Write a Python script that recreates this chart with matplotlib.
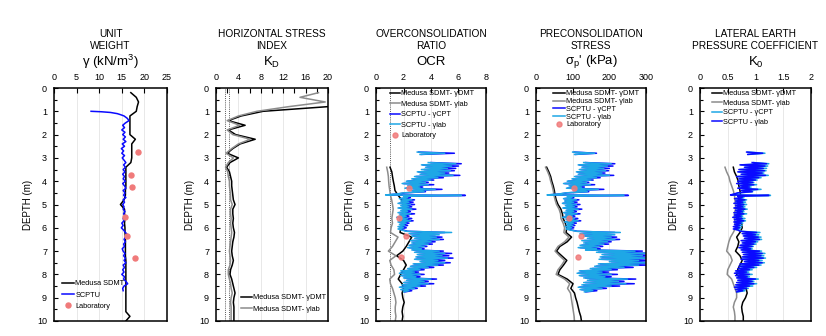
import numpy as np
import matplotlib
matplotlib.use("Agg")
import matplotlib.pyplot as plt
from matplotlib.ticker import MultipleLocator, FuncFormatter

plt.rcParams['font.family'] = ['Liberation Sans', 'DejaVu Sans']
plt.rcParams['mathtext.fontset'] = 'custom'
plt.rcParams['mathtext.rm'] = 'Liberation Sans'
plt.rcParams['mathtext.it'] = 'Liberation Sans'

nan = np.nan

# ---------------- data ----------------
# DMT depths (m)
dmt_depth = [0.2, 0.4, 0.6, 0.8, 1.0, 1.2, 1.4, 1.6, 1.8, 2.0, 2.2, 2.4, 2.6, 2.8, 3.0, 3.2, 3.4,
             3.6, 3.8, 4.0, 4.2, 4.4, 4.6, 4.8, 5.0, 5.2, 5.4, 5.6, 5.8, 6.0, 6.2, 6.4, 6.6,
             6.8, 7.0, 7.2, 7.4, 7.6, 7.8, 8.0, 8.2, 8.4, 8.6, 8.8, 9.0, 9.2, 9.4, 9.6, 9.8, 10.0]
uw_sdmt = [17.0, 18.2, 18.7, 18.4, 18.2, 16.8, 16.8, 16.8, 16.8, 16.8, 18.0, 17.2, 17.2, 17.2, 17.2, 17.0, 15.9,
           15.9, 15.9, 15.9, 15.9, 15.8, 15.8, 15.5, 14.7, 15.6, 15.6, 15.7, 15.6, 15.7, 15.7, 15.8, 15.8,
           15.8, 15.8, 15.8, 15.9, 15.9, 15.9, 15.9, 15.9, 15.9, 15.9, 15.9, 15.9, 15.9, 15.9, 15.9, 16.8, 15.9]
kd_dmt = [28.0, 26.0, 24.0, 20.0, 8.4, 4.5, 2.2, 5.2, 2.2, 3.5, 7.0, 4.3, 3.0, 2.0, 4.0, 2.5, 1.9,
          2.4, 2.6, 2.8, 2.8, 2.9, 3.0, 3.1, 3.4, 3.0, 3.0, 3.1, 3.0, 3.1, 3.3, 3.2, 3.0,
          2.9, 2.8, 2.9, 3.1, 2.9, 2.6, 2.5, 2.8, 3.0, 3.2, 3.4, 3.2, 3.1, 3.2, 3.2, 3.2, 3.2]
kd_lab = [18.3, 15.0, 19.5, 13.0, 7.3, 4.0, 2.0, 4.2, 2.0, 3.0, 6.1, 4.0, 2.8, 1.8, 3.1, 2.2, 1.7,
          2.1, 2.2, 2.4, 2.4, 2.5, 2.6, 2.6, 2.9, 2.6, 2.6, 2.7, 2.6, 2.7, 2.8, 2.7, 2.6,
          2.5, 2.4, 2.5, 2.6, 2.5, 2.2, 2.2, 2.4, 2.6, 2.7, 2.9, 2.7, 2.6, 2.7, 2.7, 2.7, 2.7]
kd_ref_lines = [1.6, 2.3]

# SDMT-derived profiles (clay, from 3.4 m)
sdmt_depth = [3.4, 3.6, 3.8, 4.0, 4.2, 4.4, 4.6, 4.8, 5.0, 5.2, 5.4, 5.6, 5.8, 6.0, 6.2, 6.4, 6.6,
              6.8, 7.0, 7.2, 7.4, 7.6, 7.8, 8.0, 8.2, 8.4, 8.6, 8.8, 9.0, 9.2, 9.4, 9.6, 9.8, 10.0]
ocr_dmt = [1.02, 1.15, 1.2, 1.26, 1.33, 1.38, 1.6, 1.87, 2.0, 2.2, 1.95, 1.9, 2.0, 1.8, 1.75, 2.6, 2.4,
           2.2, 1.95, 1.5, 2.0, 2.2, 2.0, 1.8, 1.62, 1.9, 2.0, 1.9, 1.95, 2.05, 1.95, 1.9, 1.95, 1.9]
ocr_dlab = [0.78, 0.85, 0.9, 0.92, 0.95, 1.0, 1.05, 1.14, 1.2, 1.25, 1.2, 1.15, 1.2, 1.1, 1.05, 1.6, 1.4,
            1.2, 0.9, 1.45, 1.0, 1.1, 1.3, 1.35, 1.0, 1.05, 1.2, 1.3, 1.4, 1.45, 1.4, 1.4, 1.45, 1.4]
sig_dmt = [29, 35, 40, 43, 47, 50, 52, 55, 60, 68, 72, 74, 80, 84, 82, 97, 85,
           65, 56, 70, 84, 75, 65, 60, 85, 101, 95, 105, 108, 112, 115, 118, 122, 124]
sig_dlab = [26, 32, 37, 40, 44, 47, 49, 52, 56, 63, 67, 68, 74, 78, 76, 90, 78,
            60, 52, 64, 78, 70, 60, 55, 78, 92, 86, 94, 96, 98, 100, 102, 104, 105]
k0_dmt = [0.6, 0.62, 0.66, 0.69, 0.7, 0.72, 0.73, 0.75, 0.76, 0.78, 0.75, 0.73, 0.75, 0.76, 0.72, 0.66, 0.7,
          0.68, 0.64, 0.72, 0.76, 0.72, 0.68, 0.66, 0.75, 0.81, 0.83, 0.85, 0.82, 0.77, 0.75, 0.76, 0.78, 0.78]
k0_dlab = [0.45, 0.48, 0.52, 0.54, 0.57, 0.6, 0.62, 0.63, 0.64, 0.64, 0.62, 0.62, 0.63, 0.64, 0.6, 0.55, 0.52,
           0.5, 0.48, 0.55, 0.58, 0.54, 0.5, 0.49, 0.57, 0.6, 0.63, 0.66, 0.66, 0.62, 0.6, 0.62, 0.63, 0.63]

# SCPTU unit weight
cpt_uw_depth = [1.0, 1.02, 1.05, 1.1, 1.15, 1.2, 1.3, 1.4, 1.5, 1.6, 1.7, 1.8, 1.9, 2.0, 2.1, 2.2, 2.3, 2.4,
                2.5, 2.6, 2.7, 2.8, 2.9, 3.0, 3.1, 3.2, 3.3, 3.4, 3.5, 3.6, 3.7, 3.8, 3.9, 4.0, 4.1, 4.2,
                4.3, 4.4, 4.5, 4.6, 4.7, 4.8, 4.9, 5.0, 5.1, 5.2, 5.3, 5.4, 5.5, 5.6, 5.7, 5.8, 5.9, 6.0,
                6.1, 6.2, 6.3, 6.4, 6.5, 6.6, 6.7, 6.8, 6.9, 7.0, 7.1, 7.2, 7.3, 7.4, 7.5, 7.6, 7.7, 7.8,
                7.9, 8.0, 8.1, 8.2, 8.3, 8.4, 8.5, 8.6, 8.7]
cpt_uw = [8.2, 10.5, 12.5, 14.0, 14.8, 15.5, 16.2, 16.6, 15.8, 15.2, 15.6, 15.0, 15.7, 15.2, 15.8, 15.3, 15.9, 15.1,
          15.6, 14.9, 15.4, 15.0, 15.6, 15.1, 15.5, 15.9, 15.4, 15.8, 15.3, 15.7, 15.2, 15.6, 15.3, 15.8, 15.2, 15.6,
          15.9, 15.3, 15.7, 15.4, 15.9, 15.3, 15.6, 15.2, 15.5, 15.3, 15.7, 15.4, 15.8, 15.3, 15.5, 15.0, 15.3, 14.9,
          15.4, 15.8, 16.3, 15.8, 15.5, 15.8, 15.4, 15.6, 15.1, 15.3, 15.7, 15.4, 15.8, 15.5, 15.9, 15.3, 15.6, 15.2,
          15.5, 15.0, 15.6, 15.4, 15.9, 16.3, 15.5, 15.2, 15.3]

# SCPTU-derived profiles
cpt_depth = [2.75, 2.80, 2.85, nan, 3.20, 3.25, 3.30, 3.35, 3.40, 3.45, 3.50, 3.55, 3.60, 3.65, 3.70, 3.75,
             3.80, 3.85, 3.90, 3.95, 4.00, 4.05, 4.10, 4.15, 4.20, 4.25, 4.30, 4.35, 4.40, 4.45, 4.50, 4.55,
             4.59, 4.61, 4.65, 4.70, 4.75, 4.80, 4.85, 4.90, 4.95, 5.00, 5.05, 5.10, 5.15, 5.20, 5.25, 5.30,
             5.35, 5.40, 5.45, 5.50, 5.55, 5.60, 5.65, 5.70, 5.75, 5.80, 5.85, 5.90, 5.95, 6.00, 6.05, 6.10,
             6.15, 6.20, 6.25, 6.30, 6.35, 6.40, 6.45, 6.50, 6.55, 6.60, 6.65, 6.70, 6.75, 6.80, 6.85, 6.90,
             6.95, 7.00, 7.05, 7.10, 7.15, 7.20, 7.25, 7.30, 7.35, 7.40, 7.45, 7.50, 7.55, 7.60, 7.65, 7.70,
             7.75, 7.80, 7.85, 7.90, 7.95, 8.00, 8.05, 8.10, 8.15, 8.20, 8.25, 8.30, 8.35, 8.40, 8.45, 8.50,
             8.55, 8.60, 8.65, 8.70, 8.75]
ocr_cpt_lab = [3.0, 5.0, 3.2, nan, 3.8, 5.8, 3.3, 5.5, 3.6, 5.2, 3.3, 5.4, 3.0, 5.0, 3.2, 5.6,
               2.8, 4.5, 2.6, 4.0, 2.2, 3.6, 1.9, 3.8, 2.3, 3.2, 2.1, 4.3, 2.6, 3.5, 2.0, 1.5,
               0.7, 6.2, 2.0, 2.3, 1.7, 2.6, 1.8, 2.4, 1.6, 2.5, 1.8, 2.4, 1.6, 2.6, 1.8, 2.3,
               1.6, 2.5, 1.7, 2.2, 1.5, 2.3, 1.7, 2.5, 1.6, 2.2, 1.7, 2.1, 1.6, 2.0, 1.6, 1.9,
               2.2, 5.5, 2.4, 4.6, 2.6, 4.4, 2.8, 4.6, 2.5, 4.0, 2.6, 3.8, 2.4, 3.5, 2.3, 3.3,
               2.6, 4.6, 2.8, 5.0, 3.0, 4.8, 2.9, 5.2, 2.8, 4.5, 3.2, 5.0, 2.7, 4.5, 2.5, 3.8,
               2.3, 3.2, 1.8, 2.8, 1.7, 3.2, 1.8, 2.9, 2.0, 4.0, 2.2, 3.5, 2.0, 3.8, 1.9, 3.2,
               1.7, 2.8, 1.8, 2.4, 2.0]
ocr_cpt_cpt = [3.1, 5.7, 3.3, nan, 4.0, 6.2, 3.4, 6.0, 3.7, 5.8, 3.5, 5.7, 3.1, 5.3, 3.3, 6.1,
               2.9, 4.9, 2.7, 4.2, 2.3, 3.8, 2.0, 4.2, 2.4, 3.4, 2.2, 4.8, 2.7, 3.6, 2.1, 1.6,
               0.75, 6.5, 2.1, 2.5, 1.8, 2.8, 1.9, 2.7, 1.7, 2.8, 1.9, 2.6, 1.7, 2.9, 1.9, 2.5,
               1.7, 2.8, 1.8, 2.4, 1.6, 2.6, 1.8, 2.7, 1.7, 2.4, 1.8, 2.3, 1.7, 2.2, 1.7, 2.0,
               2.3, 5.0, 2.5, 4.3, 2.7, 4.8, 2.9, 4.9, 2.6, 4.3, 2.7, 4.1, 2.5, 3.7, 2.4, 3.5,
               2.7, 4.9, 2.9, 5.5, 3.1, 5.3, 3.0, 5.6, 2.9, 5.0, 3.3, 5.4, 2.8, 4.9, 2.6, 4.2,
               2.4, 3.5, 1.9, 3.1, 1.8, 3.5, 1.9, 3.2, 2.1, 4.4, 2.3, 3.8, 2.1, 4.2, 2.0, 3.6,
               1.8, 3.0, 1.9, 2.6, 2.1]
sig_cpt_lab = [100, 160, 105, nan, 130, 205, 115, 195, 125, 185, 118, 190, 110, 180, 115, 200,
               105, 165, 98, 150, 85, 138, 75, 148, 90, 125, 83, 170, 103, 140, 82, 62,
               30, 240, 85, 98, 75, 110, 78, 103, 72, 110, 80, 105, 73, 115, 82, 103,
               75, 112, 80, 100, 72, 105, 82, 115, 78, 103, 83, 100, 80, 97, 82, 95,
               110, 230, 120, 215, 130, 205, 140, 215, 125, 195, 130, 185, 120, 172, 115, 165,
               135, 270, 165, 300, 180, 290, 175, 315, 172, 280, 200, 310, 170, 280, 160, 240,
               148, 205, 118, 180, 112, 205, 118, 188, 130, 250, 140, 225, 130, 245, 125, 205,
               115, 180, 120, 155, 132]
sig_cpt_cpt = [104, 165, 108, nan, 135, 215, 118, 210, 128, 200, 122, 198, 113, 188, 118, 212,
               108, 175, 101, 156, 88, 144, 78, 160, 93, 132, 86, 185, 106, 144, 85, 65,
               32, 252, 88, 103, 77, 117, 80, 112, 74, 120, 83, 112, 76, 125, 84, 110,
               78, 120, 83, 106, 75, 114, 85, 122, 81, 110, 86, 106, 83, 103, 85, 98,
               113, 215, 124, 205, 134, 220, 145, 228, 130, 205, 135, 198, 125, 182, 120, 175,
               140, 290, 170, 330, 185, 320, 180, 340, 178, 310, 205, 335, 175, 305, 165, 265,
               153, 222, 122, 198, 116, 222, 122, 205, 135, 272, 146, 240, 135, 268, 130, 228,
               119, 192, 124, 166, 136]
k0_cpt_lab = [0.84, 1.13, 0.86, nan, 0.94, 1.20, 0.72, 1.17, 0.80, 1.14, 0.70, 1.16, 0.68, 1.12, 0.74, 1.18,
              0.66, 1.06, 0.70, 1.00, 0.68, 0.95, 0.66, 0.97, 0.72, 0.89, 0.68, 1.04, 0.74, 0.94, 0.68, 0.61,
              0.55, 1.24, 0.68, 0.76, 0.62, 0.81, 0.64, 0.77, 0.61, 0.79, 0.64, 0.77, 0.61, 0.81, 0.64, 0.76,
              0.61, 0.79, 0.62, 0.74, 0.59, 0.76, 0.62, 0.79, 0.61, 0.74, 0.62, 0.72, 0.60, 0.71, 0.60, 0.69,
              0.72, 1.02, 0.76, 1.00, 0.78, 1.05, 0.80, 1.07, 0.74, 1.00, 0.76, 0.97, 0.72, 0.94, 0.70, 0.91,
              0.74, 1.07, 0.76, 1.12, 0.78, 1.10, 0.76, 1.14, 0.74, 1.06, 0.80, 1.12, 0.72, 1.06, 0.70, 0.97,
              0.68, 0.89, 0.64, 0.84, 0.62, 0.89, 0.64, 0.85, 0.66, 1.00, 0.68, 0.94, 0.66, 0.97, 0.64, 0.89,
              0.62, 0.84, 0.64, 0.77, 0.66]
k0_cpt_cpt = [0.86, 1.17, 0.88, nan, 0.97, 1.24, 0.74, 1.22, 0.82, 1.20, 0.72, 1.19, 0.70, 1.15, 0.76, 1.23,
              0.68, 1.10, 0.72, 1.03, 0.70, 0.97, 0.68, 1.02, 0.74, 0.92, 0.70, 1.10, 0.76, 0.95, 0.70, 0.63,
              0.56, 1.27, 0.70, 0.79, 0.64, 0.84, 0.66, 0.82, 0.63, 0.84, 0.66, 0.81, 0.63, 0.85, 0.66, 0.79,
              0.63, 0.84, 0.64, 0.77, 0.61, 0.81, 0.64, 0.82, 0.63, 0.77, 0.64, 0.76, 0.62, 0.74, 0.62, 0.71,
              0.74, 1.08, 0.78, 1.06, 0.80, 1.10, 0.82, 1.11, 0.76, 1.04, 0.78, 1.01, 0.74, 0.96, 0.72, 0.94,
              0.76, 1.11, 0.78, 1.17, 0.80, 1.15, 0.78, 1.18, 0.76, 1.12, 0.82, 1.16, 0.74, 1.10, 0.72, 1.02,
              0.70, 0.94, 0.66, 0.88, 0.64, 0.94, 0.66, 0.89, 0.68, 1.05, 0.70, 0.97, 0.68, 1.02, 0.66, 0.95,
              0.64, 0.87, 0.66, 0.81, 0.68]

# Laboratory
lab_uw_depth = [2.75, 3.75, 4.25, 5.55, 6.35, 7.3]
lab_uw = [18.5, 17.0, 17.2, 15.7, 16.2, 18.0]
lab_depth = [4.28, 5.56, 6.34, 7.27]
lab_ocr = [2.4, 1.67, 2.16, 1.8]
lab_sig = [104, 90, 124, 115]

# ---------------- styling ----------------
BLACK = '#000000'
GREY = '#8c8c8c'
BLUE = '#0a0aff'
LBLUE = '#1ea7e6'
RED = '#f07a7a'

W, H = 826, 336
fig = plt.figure(figsize=(W / 100, H / 100), dpi=100)

top_px, bot_px = 88, 321
panels = [(54, 113), (216, 112), (376, 110), (536, 110), (700, 111)]
axes = []
for (lx, wd) in panels:
    ax = fig.add_axes([lx / W, 1 - bot_px / H, wd / W, (bot_px - top_px) / H])
    axes.append(ax)

xlims = [(0, 25), (0, 20), (0, 8), (0, 300), (0, 2)]
xmaj = [5, 4, 2, 100, 0.5]
title1 = ['UNIT', 'HORIZONTAL STRESS', 'OVERCONSOLIDATION', 'PRECONSOLIDATION', 'LATERAL EARTH']
title2 = ['WEIGHT', 'INDEX', 'RATIO', 'STRESS', 'PRESSURE COEFFICIENT']
symb = [r'γ (kN/m$^{3}$)', r'K$_{\mathrm{D}}$', 'OCR', r'σ$_{\mathrm{p}}$' + "' (kPa)", r'K$_{\mathrm{0}}$']

fmt = FuncFormatter(lambda v, p: ('%g' % v))

for i, ax in enumerate(axes):
    ax.set_ylim(10, 0)
    ax.set_xlim(*xlims[i])
    ax.xaxis.set_major_locator(MultipleLocator(xmaj[i]))
    ax.xaxis.set_major_formatter(fmt)
    ax.yaxis.set_major_locator(MultipleLocator(1))
    ax.yaxis.set_minor_locator(MultipleLocator(0.5))
    ax.xaxis.tick_top()
    ax.tick_params(axis='x', which='both', direction='in', top=True, bottom=False,
                   labelsize=6.5, pad=4, length=3.5, width=0.8)
    ax.tick_params(axis='y', which='both', direction='in', left=True, right=False,
                   labelsize=6.5, pad=5, length=3, width=0.8)
    ax.tick_params(axis='y', which='minor', length=2)
    for s in ax.spines.values():
        s.set_linewidth(1.1)
    ax.grid(True, axis='x', color='#e4e4e4', linewidth=0.6)
    ax.set_axisbelow(True)
    ax.set_ylabel('DEPTH (m)', fontsize=7, labelpad=3)
    lx, wd = panels[i]
    cx = (lx + wd / 2) / W
    fig.text(cx, 1 - 34 / H, title1[i], ha='center', va='center', fontsize=7.3)
    fig.text(cx, 1 - 46 / H, title2[i], ha='center', va='center', fontsize=7.3)
    fig.text(cx, 1 - 62 / H, symb[i], ha='center', va='center', fontsize=9.5)

axes[1].xaxis.set_minor_locator(MultipleLocator(2))

leg_kw = dict(frameon=False, fontsize=5.3, borderpad=0, borderaxespad=0,
              handletextpad=0.15, loc='upper left')

# Panel 1: unit weight
ax = axes[0]
ax.plot(uw_sdmt, dmt_depth, color=BLACK, lw=1.1, label='Medusa SDMT')
ax.plot(cpt_uw, cpt_uw_depth, color=BLUE, lw=1.1, label='SCPTU')
ax.plot(lab_uw, lab_uw_depth, 'o', color=RED, ms=3.6, label='Laboratory')
ax.legend(bbox_to_anchor=(0.075, 0.175), handlelength=1.6, labelspacing=0.55, **leg_kw)

# Panel 2: KD
ax = axes[1]
for v in kd_ref_lines:
    ax.axvline(v, color='#555555', lw=0.7, ls=(0, (1, 1.2)))
ax.plot(kd_dmt, dmt_depth, color=BLACK, lw=1.1, label='Medusa SDMT- γDMT')
ax.plot(kd_lab, dmt_depth, color=GREY, lw=1.1, label='Medusa SDMT- γlab')
ax.legend(bbox_to_anchor=(0.225, 0.115), handlelength=1.5, labelspacing=0.55, **leg_kw)

# Panel 3: OCR
ax = axes[2]
ax.axvline(1, color='#555555', lw=0.7, ls=(0, (1, 1.2)))
ax.plot(ocr_dmt, sdmt_depth, color=BLACK, lw=1.1, label='Medusa SDMT- γDMT')
ax.plot(ocr_dlab, sdmt_depth, color=GREY, lw=1.1, label='Medusa SDMT- γlab')
ax.plot(ocr_cpt_cpt, cpt_depth, color=BLUE, lw=1.1, label='SCPTU - γCPT')
ax.plot(ocr_cpt_lab, cpt_depth, color=LBLUE, lw=1.1, label='SCPTU - γlab')
ax.plot(lab_ocr, lab_depth, 'o', color=RED, ms=3.6, alpha=0.85, label='Laboratory')
ax.legend(bbox_to_anchor=(0.125, 0.99), handlelength=1.4, labelspacing=0.45, **leg_kw)

# Panel 4: preconsolidation stress
ax = axes[3]
ax.plot(sig_dmt, sdmt_depth, color=BLACK, lw=1.1, label='Medusa SDMT- γDMT')
ax.plot(sig_dlab, sdmt_depth, color=GREY, lw=1.1, label='Medusa SDMT- γlab')
ax.plot(sig_cpt_cpt, cpt_depth, color=BLUE, lw=1.1, label='SCPTU - γCPT')
ax.plot(sig_cpt_lab, cpt_depth, color=LBLUE, lw=1.1, label='SCPTU - γlab')
ax.plot(lab_sig, lab_depth, 'o', color=RED, ms=3.6, alpha=0.85, label='Laboratory')
ax.legend(bbox_to_anchor=(0.155, 0.99), handlelength=1.6, labelspacing=0.08, **leg_kw)

# Panel 5: K0
ax = axes[4]
ax.plot(k0_dmt, sdmt_depth, color=BLACK, lw=1.1, label='Medusa SDMT- γDMT')
ax.plot(k0_dlab, sdmt_depth, color=GREY, lw=1.1, label='Medusa SDMT- γlab')
ax.plot(k0_cpt_cpt, cpt_depth, color=LBLUE, lw=1.1, label='SCPTU - γCPT')
ax.plot(k0_cpt_lab, cpt_depth, color=BLUE, lw=1.1, label='SCPTU - γlab')
ax.legend(bbox_to_anchor=(0.105, 0.99), handlelength=1.4, labelspacing=0.3, **leg_kw)

fig.savefig('out.png', dpi=100)
